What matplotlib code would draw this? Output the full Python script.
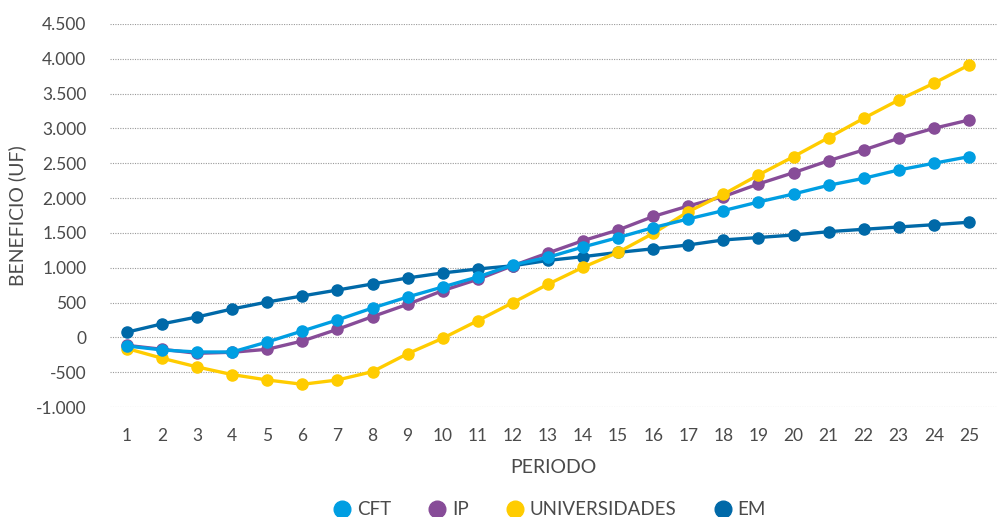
import numpy as np
import matplotlib.pyplot as plt
from matplotlib.ticker import FuncFormatter
from matplotlib.lines import Line2D

plt.rcParams['font.family'] = ['Lato', 'DejaVu Sans']

periodo = list(range(1, 26))

cft = [-123, -181, -210, -210, -66, 92, 250, 422, 580, 724, 868, 1040, 1150, 1298,
       1433, 1576, 1701, 1820, 1944, 2059, 2184, 2284, 2404, 2500, 2595]
ip = [-115, -171, -229, -214, -171, -52, 116, 298, 475, 671, 834, 1030, 1212, 1389,
      1542, 1736, 1887, 2021, 2203, 2365, 2537, 2691, 2859, 3002, 3121]
univ = [-160, -300, -425, -535, -612, -674, -612, -492, -234, -13, 240, 499, 763, 1007,
        1222, 1494, 1805, 2055, 2332, 2595, 2868, 3146, 3409, 3649, 3911]
em = [75, 194, 293, 408, 508, 595, 680, 767, 853, 925, 982, 1028, 1105, 1159,
      1220, 1272, 1327, 1399, 1434, 1470, 1518, 1552, 1585, 1618, 1653]

series = [
    ('EM', em, '#0069A8'),
    ('IP', ip, '#874C98'),
    ('UNIVERSIDADES', univ, '#FFCC00'),
    ('CFT', cft, '#009EE2'),
]
legend_order = ['CFT', 'IP', 'UNIVERSIDADES', 'EM']

txt = '#4a4a4a'

fig = plt.figure(figsize=(9.98, 5.17), dpi=100)
ax = fig.add_axes([110 / 998, 110 / 517, 887 / 998, 383 / 517])

colors = {}
for name, vals, c in series:
    ax.plot(periodo, vals, color=c, lw=2.4, marker='o', ms=8, mec=c, mfc=c,
            solid_capstyle='round')
    colors[name] = c

ax.set_ylim(-1000, 4500)
ax.set_xlim(0.515, 25.8)
ax.set_yticks(np.arange(-1000, 4501, 500))
ax.set_xticks(periodo)
ax.yaxis.set_major_formatter(FuncFormatter(lambda v, p: f'{int(v):,}'.replace(',', '.')))
ax.grid(axis='y', linestyle=(0, (1, 1.2)), color='#9a9a9a', lw=0.8)
ax.set_axisbelow(True)
for s in ax.spines.values():
    s.set_visible(False)
ax.tick_params(length=0, labelsize=12.5, colors=txt)
ax.tick_params(axis='y', pad=17)
ax.tick_params(axis='x', pad=15)

ax.set_ylabel('BENEFICIO (UF)', fontsize=14, color=txt, labelpad=7)
ax.set_xlabel('PERIODO', fontsize=14, color=txt, labelpad=11)

handles = [Line2D([], [], ls='none', marker='o', ms=12, color=colors[n]) for n in legend_order]
fig.legend(handles, legend_order, loc='center', bbox_to_anchor=(0.55, 0.014), ncol=4,
           frameon=False, fontsize=13.5, labelcolor=txt, columnspacing=1.9,
           handletextpad=0.25, handlelength=1.1)

fig.savefig('out.png', dpi=100)
